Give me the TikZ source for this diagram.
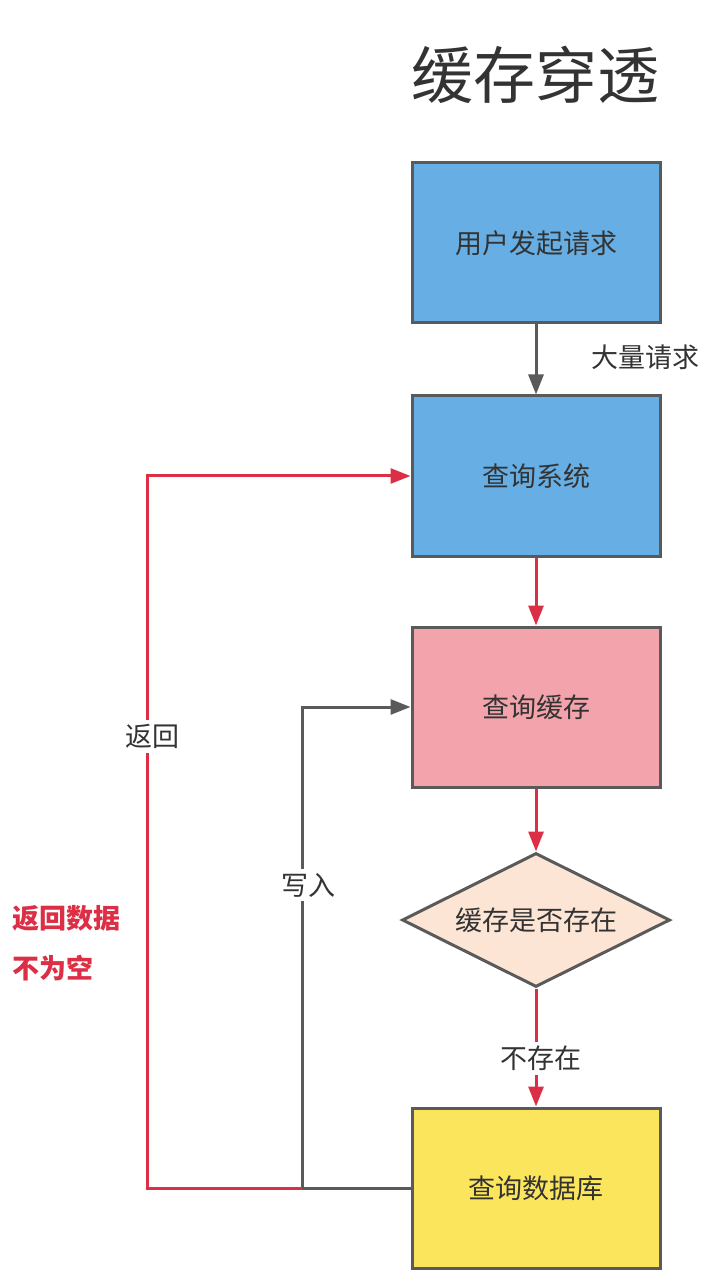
\documentclass[tikz,border=0pt]{standalone}
\usepackage{fontspec}
\setmainfont{Noto Sans CJK SC}
\usetikzlibrary{arrows.meta,shapes.geometric}
\definecolor{boxblue}{HTML}{66AEE3}
\definecolor{boxpink}{HTML}{F2A3AB}
\definecolor{boxpeach}{HTML}{FDE5D5}
\definecolor{boxyellow}{HTML}{FAE55D}
\definecolor{edgegray}{HTML}{5A5A5A}
\definecolor{flowred}{HTML}{DC2F45}
\definecolor{txt}{HTML}{333333}

\begin{document}
\begin{tikzpicture}[x=0.5pt, y=-0.5pt, font=\fontsize{13.5}{16}\selectfont, text=txt,
  stepbox/.style={draw=edgegray, line width=1.5pt, minimum width=124pt, minimum height=80pt, inner sep=0pt},
  check/.style={diamond, draw=edgegray, line width=1.5pt, fill=boxpeach, minimum width=134pt, minimum height=67pt, inner sep=0pt, shape aspect=2},
  lbl/.style={fill=white, inner sep=2pt},
  garr/.style={draw=edgegray, line width=1.5pt, -{Triangle[length=10pt,width=7.5pt]}},
  rarr/.style={draw=flowred, line width=1.5pt, -{Triangle[length=10pt,width=7.5pt]}}]
\useasboundingbox (0,0) rectangle (718,1277);
% title
\node (title) at (535,75) {\fontsize{31}{36}\selectfont 缓存穿透};
% the flow
\node[stepbox, fill=boxblue] (user) at (536,243) {用户发起请求};
\node[stepbox, fill=boxblue] (query) at (536,476) {查询系统};
\node[stepbox, fill=boxpink] (cache) at (536,707) {查询缓存};
\node[check] (exists) at (536,920) {缓存是否存在};
\node[stepbox, fill=boxyellow] (db) at (536,1188) {查询数据库};
\coordinate (split) at (302,1188);
\coordinate (back) at (147,1188);
\draw[garr] (user) -- (query);
\node (many) at (645,357) {大量请求};
\draw[rarr] (query) -- (cache);
\draw[rarr] (cache) -- (exists);
\draw[rarr] (exists) -- node[lbl, pos=0.59, xshift=2.5pt] {不存在} (db);
% write back into the cache
\draw[garr] (db.west) -- (split) -- node[lbl, pos=0.63, xshift=3pt] {写入} (split |- cache.west) -- (cache.west);
% return the data
\draw[rarr] (split) -- (back) -- node[lbl, pos=0.634, xshift=2.5pt] {返回} (back |- query.west) -- (query.west);
\node[text=flowred, font=\fontsize{13.5}{25}\selectfont\bfseries, align=left, anchor=west] (note) at (5,943) {返回数据\\不为空};
\end{tikzpicture}
\end{document}
